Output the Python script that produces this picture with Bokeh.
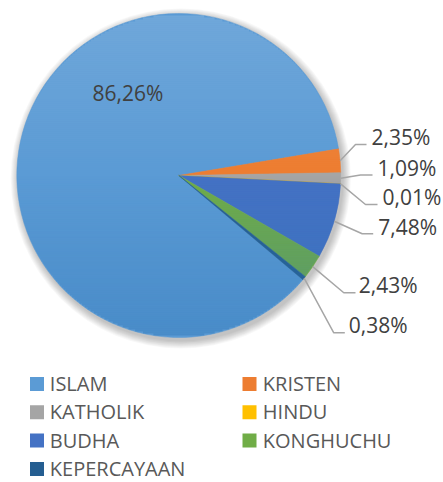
import math
from bokeh.plotting import figure
from bokeh.models import Range1d
from bokeh.embed import file_html
from bokeh.resources import INLINE
from bokeh.core.properties import value

# ---- data ----
categories = ["ISLAM", "KRISTEN", "KATHOLIK", "HINDU", "BUDHA", "KONGHUCHU", "KEPERCAYAAN"]
percentages = [86.26, 2.35, 1.09, 0.01, 7.48, 2.43, 0.38]
colors = ["#5B9BD5", "#ED7D31", "#A5A5A5", "#FFC000", "#4472C4", "#70AD47", "#255E91"]

# ---- layout ----
W, H = 443, 482
FONT = "Open Sans"


def X(xr):
    return xr


def Y(yr):
    return H - yr


p = figure(width=W, height=H, x_range=Range1d(0, W), y_range=Range1d(0, H),
           output_backend="svg", toolbar_location=None,
           x_axis_type=None, y_axis_type=None, min_border=0,
           outline_line_color=None, background_fill_color="white")
p.grid.visible = False

cx, cy, R = X(178.3), Y(175), 162.0
first_slice_angle = 130  # degrees, clockwise from 12 o'clock
theta0 = math.radians(90 - first_slice_angle)

# soft drop shadow
for k in range(1, 10):
    p.circle(x=cx + 2, y=cy - 3, radius=R + k * 0.9, fill_color="black",
             fill_alpha=0.028, line_color=None)

total = sum(percentages)
starts, ends, mids = [], [], []
cum = 0.0
for v in percentages:
    a_end = theta0 - 2 * math.pi * cum / total
    cum += v
    a_start = theta0 - 2 * math.pi * cum / total
    starts.append(a_start)
    ends.append(a_end)
    mids.append((a_start + a_end) / 2)

p.wedge(x=[cx] * len(percentages), y=[cy] * len(percentages), radius=R,
        start_angle=starts, end_angle=ends, direction="anticlock",
        fill_color=colors, line_color=colors, line_width=0.5)

# light-to-dark vertical shading over the pie (Excel-style gradient)
step = 2
top_y = cy + R
ls, rs, ts, bs, fc, fa = [], [], [], [], [], []
n = int(2 * R // step)
for j in range(n):
    yt = top_y - j * step
    yb = yt - step
    hw = min(math.sqrt(max(R * R - (yt - cy) ** 2, 0)),
             math.sqrt(max(R * R - (yb - cy) ** 2, 0)))
    if hw <= 0:
        continue
    t = (top_y - (yt + yb) / 2) / (2 * R)
    ls.append(cx - hw)
    rs.append(cx + hw)
    ts.append(yt)
    bs.append(yb)
    if t < 0.5:
        fc.append("#ffffff")
        fa.append(0.13 * (1 - 2 * t))
    else:
        fc.append("#2e75b6")
        fa.append(0.42 * (2 * t - 1))
p.quad(left=ls, right=rs, top=ts, bottom=bs, fill_color=fc, fill_alpha=fa,
       line_color=None)

labels = [f"{v:.2f}%".replace(".", ",") for v in percentages]
TXT = "#404040"
LEAD = "#A6A6A6"

# inside label for the big slice (offset from centre)
p.text(x=[cx - 50.8], y=[cy + 83], text=[labels[0]], text_align="center",
       text_baseline="middle", text_font=value(FONT),
       text_font_size=value("21px"), text_color=TXT)

# outside labels: elbow (x, y), line end x, text x, text middle  (reference px)
outside = {
    1: ((355, 144), 366, 371, 136.2),
    2: ((360, 174.5), 372, 377, 167.3),
    3: ((365, 204), 377, 382, 196.4),
    4: ((361.7, 233.3), 372.7, 377.7, 226.5),
    5: ((343.3, 292.3), 355, 358.3, 284.4),
    6: ((333.3, 332.3), 344.3, 348.3, 324.6),
}
for i, ((ex, ey), lx, tx, tm) in outside.items():
    sx = cx + R * math.cos(mids[i])
    sy = cy + R * math.sin(mids[i])
    p.line(x=[sx, X(ex), X(lx)], y=[sy, Y(ey), Y(ey)], line_color=LEAD,
           line_width=1.5)
    p.text(x=[X(tx)], y=[Y(tm)], text=[labels[i]], text_align="left",
           text_baseline="middle", text_font=value(FONT),
           text_font_size=value("21px"), text_color=TXT)

# legend
col_sq = [36.5, 249]
col_tx = [49.3, 262.3]
row0, row_step = 383.5, 28.3
for i, (name, c) in enumerate(zip(categories, colors)):
    col, row = i % 2, i // 2
    yc = row0 + row * row_step
    p.rect(x=[X(col_sq[col])], y=[Y(yc)], width=14, height=14,
           fill_color=c, line_color=None)
    p.text(x=[X(col_tx[col])], y=[Y(yc - 0.5)], text=[name], text_align="left",
           text_baseline="middle", text_font=value(FONT),
           text_font_size=value("20px"), text_color="#595959")

open("out.html", "w").write(file_html(p, INLINE))
